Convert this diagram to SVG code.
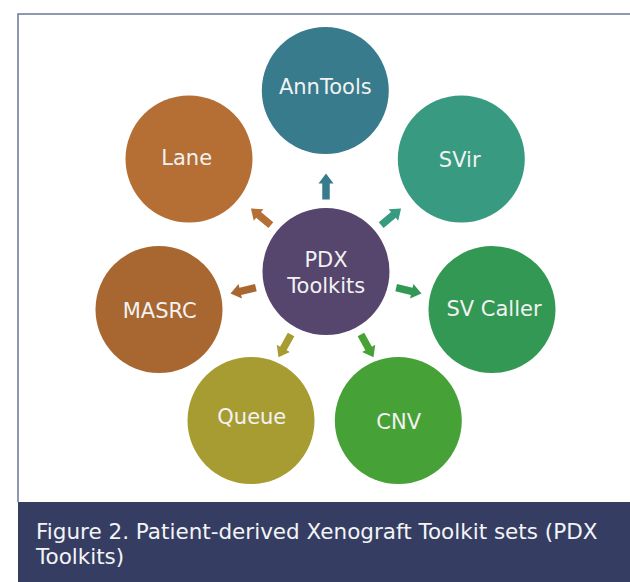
<svg xmlns="http://www.w3.org/2000/svg" xmlns:xlink="http://www.w3.org/1999/xlink" width="630" height="582" viewBox="0 0 630 582">
<style>
.lbl{font-family:"DejaVu Sans",Verdana,sans-serif;font-size:21px;fill:#F2F2F2;text-anchor:middle}
.cap{font-family:"DejaVu Sans",Verdana,sans-serif;font-size:21.5px;fill:#F4F4F6}
</style>
<defs>
<polygon id="arr" points="-3.75,0 -3.75,-16 -7.5,-16 0,-26 7.5,-16 3.75,-16 3.75,0"/>
</defs>
<rect width="630" height="582" fill="#FFFFFF"/>
<path d="M18,502 V14 H630" fill="none" stroke="#6C7599" stroke-width="1.5"/>
<g id="node-anntools"><circle cx="325.3" cy="90.5" r="63.5" fill="#377B8C"/><text class="lbl" x="325.3" y="94">AnnTools</text></g>
<g id="node-svir"><circle cx="461.3" cy="159" r="63.5" fill="#389A80"/><text class="lbl" x="459.7" y="167">SVir</text></g>
<g id="node-svcaller"><circle cx="492" cy="309.5" r="63.5" fill="#339853"/><text class="lbl" x="494" y="316">SV Caller</text></g>
<g id="node-cnv"><circle cx="398.3" cy="420.5" r="63.5" fill="#46A137"/><text class="lbl" x="398.7" y="429">CNV</text></g>
<g id="node-queue"><circle cx="251" cy="420.5" r="63.5" fill="#A79C32"/><text class="lbl" x="251.8" y="423.5">Queue</text></g>
<g id="node-masrc"><circle cx="159" cy="309.5" r="63.5" fill="#A86631"/><text class="lbl" x="159.7" y="318">MASRC</text></g>
<g id="node-lane"><circle cx="189" cy="159" r="63.5" fill="#B56E34"/><text class="lbl" x="186.7" y="165">Lane</text></g>
<g id="node-pdx"><circle cx="326" cy="271.5" r="63.5" fill="#56456D"/><text class="lbl" x="326" y="266.7">PDX</text><text class="lbl" x="326.3" y="292.7">Toolkits</text></g>
<g id="connectors">
<use xlink:href="#arr" fill="#377B8C" transform="translate(326 271.5) rotate(0) translate(0 -72)"/>
<use xlink:href="#arr" fill="#389A80" transform="translate(326 271.5) rotate(50) translate(0 -72)"/>
<use xlink:href="#arr" fill="#339853" transform="translate(326 271.5) rotate(103) translate(0 -72)"/>
<use xlink:href="#arr" fill="#46A137" transform="translate(326 271.5) rotate(151) translate(0 -72)"/>
<use xlink:href="#arr" fill="#A79C32" transform="translate(326 271.5) rotate(209) translate(0 -72)"/>
<use xlink:href="#arr" fill="#A86631" transform="translate(326 271.5) rotate(257) translate(0 -72)"/>
<use xlink:href="#arr" fill="#B56E34" transform="translate(326 271.5) rotate(310) translate(0 -72)"/>
</g>
<rect x="18" y="502" width="612" height="80" fill="#353E62"/>
<text class="cap" x="36" y="539.3">Figure 2. Patient-derived Xenograft Toolkit sets (PDX</text>
<text class="cap" x="36" y="564">Toolkits)</text>
</svg>
